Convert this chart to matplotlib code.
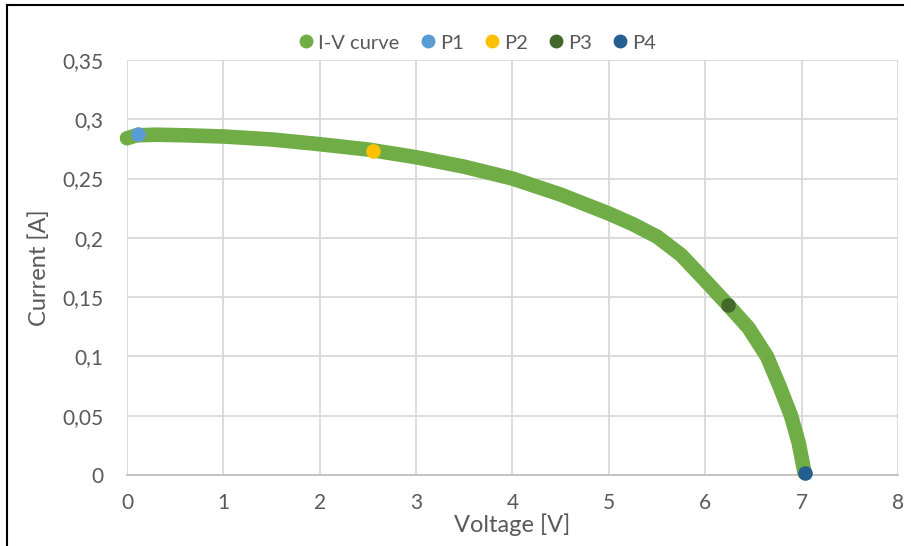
import matplotlib
matplotlib.use("Agg")
import matplotlib.pyplot as plt
from matplotlib.ticker import FuncFormatter, MultipleLocator
from matplotlib.lines import Line2D

plt.rcParams['font.family'] = ['Lato', 'DejaVu Sans']

voltage = [0, 0.1, 0.3, 0.6, 1.0, 1.5, 2.0, 2.5, 3.0, 3.5, 4.0, 4.5, 5.0, 5.25,
           5.5, 5.75, 6.0, 6.24, 6.45, 6.64, 6.77, 6.89, 6.97, 7.03]
current = [0.284, 0.2865, 0.287, 0.2865, 0.2855, 0.283, 0.279, 0.2745, 0.268,
           0.26, 0.25, 0.2365, 0.2205, 0.2115, 0.201, 0.1855, 0.164, 0.143, 0.124,
           0.1, 0.075, 0.05, 0.027, 0.002]

point_names = ["P1", "P2", "P3", "P4"]
point_v = [0.11, 2.55, 6.24, 7.03]
point_i = [0.2875, 0.273, 0.1433, 0.002]
point_colors = ["#5B9BD5", "#FFC000", "#43682B", "#255E91"]
curve_color = "#70AD47"
text_color = "#595959"

fig = plt.figure(figsize=(9.12, 5.46), dpi=100)
ax = fig.add_axes([127/912, 1-475/546, (898-127)/912, (475-60)/546])

ax.plot(voltage, current, color=curve_color, lw=10.5, solid_capstyle='round',
        solid_joinstyle='round', clip_on=False, zorder=3)
for n, v, i, c in zip(point_names, point_v, point_i, point_colors):
    ax.plot([v], [i], 'o', color=c, ms=10.5, mec='none', clip_on=False, zorder=4)

ax.set_xlim(0, 8)
ax.set_ylim(0, 0.35)
ax.xaxis.set_major_locator(MultipleLocator(1))
ax.yaxis.set_major_locator(MultipleLocator(0.05))
ax.xaxis.set_major_formatter(FuncFormatter(lambda x, p: f"{x:g}".replace('.', ',')))
ax.yaxis.set_major_formatter(FuncFormatter(lambda y, p: f"{round(y, 2):g}".replace('.', ',')))
ax.grid(True, color="#D9D9D9", lw=1.3)
ax.set_axisbelow(True)
for s in ['top', 'right', 'left']:
    ax.spines[s].set_visible(False)
ax.spines['bottom'].set_color("#BFBFBF")
ax.spines['bottom'].set_linewidth(1.3)
ax.tick_params(length=0, labelsize=15, colors=text_color)
ax.tick_params(axis='x', pad=13)
ax.tick_params(axis='y', pad=17)
ax.set_xlabel("Voltage [V]", fontsize=17, color=text_color, labelpad=0)
ax.set_ylabel("Current [A]", fontsize=17, color=text_color, labelpad=9)

handles = [Line2D([], [], ls='none', marker='o', ms=10, color=curve_color, mec='none')]
labels = ["I-V curve"]
for n, c in zip(point_names, point_colors):
    handles.append(Line2D([], [], ls='none', marker='o', ms=10, color=c, mec='none'))
    labels.append(n)
fig.legend(handles, labels, loc='center', bbox_to_anchor=(475/912, 1-43/546),
           ncol=5, frameon=False, fontsize=14.5, labelcolor=text_color,
           handletextpad=0.0, columnspacing=0.8, handlelength=1.2)

# chart border (top and left)
fig.add_artist(Line2D([7/912, 903/912], [1-5/546, 1-5/546], color='black', lw=1.5,
                      transform=fig.transFigure))
fig.add_artist(Line2D([7/912, 7/912], [0, 1-5/546], color='black', lw=1.5,
                      transform=fig.transFigure))

fig.savefig("out.png", dpi=100)
